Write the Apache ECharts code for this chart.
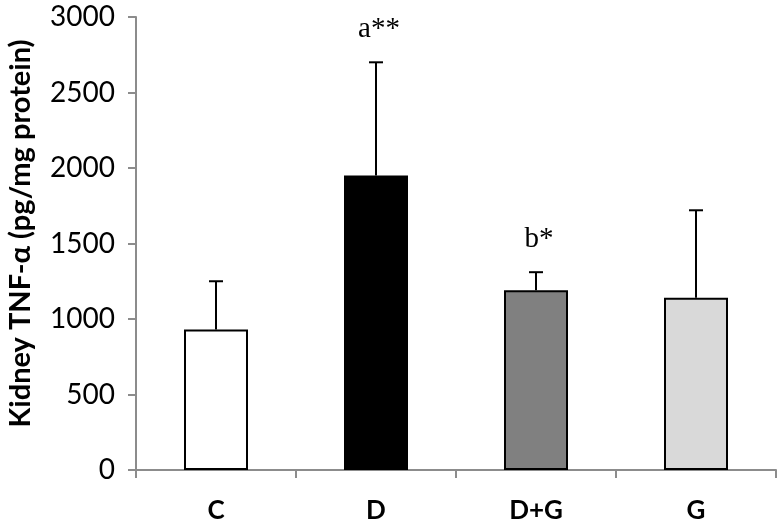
<!DOCTYPE html>
<html>
<head>
<meta charset="utf-8">
<script src="https://cdn.jsdelivr.net/npm/echarts@6/dist/echarts.min.js"></script>
<style>
  html, body { margin: 0; padding: 0; background: #fff; }
  #chart { width: 779px; height: 529px; }
</style>
</head>
<body>
<div id="chart"></div>
<script>
// 数据
var categories = ['C', 'D', 'D+G', 'G'];
var means = [930, 1950, 1190, 1140];
var errorTops = [1250, 2700, 1310, 1720];
var marks = ['', 'a**', 'b*', ''];
var barColors = ['#ffffff', '#000000', '#808080', '#d9d9d9'];
var yTicks = { min: 0, max: 3000, interval: 500 };

var myChart = echarts.init(document.getElementById('chart'));

var barData = means.map(function (v, i) {
  return { value: v, itemStyle: { color: barColors[i] } };
});
var errData = means.map(function (v, i) {
  return [i, v, errorTops[i]];
});

var option = {
  animation: false,
  grid: { left: 136, right: 3, top: 17, bottom: 59, containLabel: false, outerBoundsMode: 'none' },
  xAxis: {
    type: 'category',
    data: categories,
    axisLine: { lineStyle: { color: '#8c8c8c', width: 2 } },
    axisTick: { show: true, length: 8, lineStyle: { color: '#8c8c8c', width: 2 } },
    axisLabel: {
      margin: 28,
      fontFamily: 'Lato',
      fontWeight: 'bold',
      fontSize: 26,
      color: '#000'
    }
  },
  yAxis: {
    type: 'value',
    min: yTicks.min,
    max: yTicks.max,
    interval: yTicks.interval,
    name: 'Kidney TNF-α (pg/mg protein)',
    nameLocation: 'middle',
    nameGap: 101,
    nameTextStyle: {
      fontFamily: 'Lato',
      fontWeight: 'bold',
      fontSize: 29,
      color: '#000',
      padding: [0, 0, 0, 20]
    },
    splitLine: { show: false },
    axisLine: { show: true, lineStyle: { color: '#8c8c8c', width: 2 } },
    axisTick: { show: true, length: 8, lineStyle: { color: '#8c8c8c', width: 2 } },
    axisLabel: {
      margin: 21,
      fontFamily: 'Lato',
      fontSize: 28,
      color: '#000',
      formatter: function (v) { return String(v); }
    }
  },
  series: [
    {
      type: 'bar',
      data: barData,
      barWidth: '40%',
      itemStyle: { borderColor: '#000', borderWidth: 2 },
      z: 2
    },
    {
      // 误差线 + 显著性标记
      type: 'custom',
      data: errData,
      z: 3,
      renderItem: function (params, api) {
        var i = api.value(0);
        var base = api.coord([i, api.value(1)]);
        var top = api.coord([i, api.value(2)]);
        var half = 7;
        var children = [
          {
            type: 'line',
            shape: { x1: base[0], y1: base[1], x2: top[0], y2: top[1] },
            style: { stroke: '#000', lineWidth: 2 }
          },
          {
            type: 'line',
            shape: { x1: top[0] - half, y1: top[1], x2: top[0] + half, y2: top[1] },
            style: { stroke: '#000', lineWidth: 2 }
          }
        ];
        if (marks[i]) {
          children.push({
            type: 'text',
            x: top[0] + 3,
            y: top[1] - 33,
            style: {
              text: marks[i],
              fontFamily: 'Liberation Serif',
              fontSize: 29,
              fill: '#000',
              align: 'center',
              verticalAlign: 'middle'
            }
          });
        }
        return { type: 'group', children: children };
      }
    }
  ]
};

myChart.setOption(option);
</script>
</body>
</html>
